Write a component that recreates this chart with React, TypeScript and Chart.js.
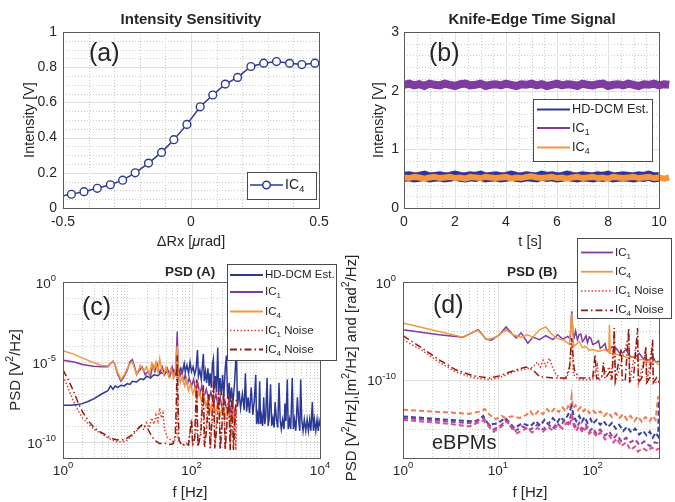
import { useEffect, useRef } from 'react';
import { Chart, registerables } from 'chart.js';

Chart.register(...registerables);

// ---------------- data ----------------
// (a) Intensity sensitivity
const sensDeltaRx = [-0.517, -0.467, -0.418, -0.366, -0.315, -0.267, -0.218, -0.166, -0.115, -0.067, -0.016, 0.036, 0.085, 0.134, 0.182, 0.234, 0.284, 0.334, 0.385, 0.433, 0.484];
const sensIntensity = [0.065, 0.078, 0.093, 0.112, 0.132, 0.158, 0.2, 0.255, 0.316, 0.388, 0.475, 0.575, 0.642, 0.704, 0.742, 0.804, 0.823, 0.832, 0.822, 0.815, 0.823];

// (b) Knife-edge time signal
const timeS = [0, 0.2, 0.4, 0.6, 0.8, 1, 1.2, 1.4, 1.6, 1.8, 2, 2.2, 2.4, 2.6, 2.8, 3, 3.2, 3.4, 3.6, 3.8, 4, 4.2, 4.4, 4.6, 4.8, 5, 5.2, 5.4, 5.6, 5.8, 6, 6.2, 6.4, 6.6, 6.8, 7, 7.2, 7.4, 7.6, 7.8, 8, 8.2, 8.4, 8.6, 8.8, 9, 9.2, 9.4, 9.6, 9.8, 10, 10.2, 10.4];
const timeHdcm = [0.53, 0.54, 0.52, 0.53, 0.55, 0.52, 0.53, 0.54, 0.52, 0.53, 0.55, 0.53, 0.52, 0.54, 0.53, 0.55, 0.52, 0.53, 0.54, 0.52, 0.53, 0.55, 0.53, 0.52, 0.54, 0.53, 0.52, 0.55, 0.53, 0.54, 0.52, 0.53, 0.55, 0.53, 0.52, 0.54, 0.53, 0.52, 0.54, 0.53, 0.55, 0.52, 0.53, 0.54, 0.53, 0.52, 0.54, 0.53, 0.55, 0.52, 0.53];
const timeIc1 = [2.1, 2.12, 2.09, 2.11, 2.08, 2.12, 2.1, 2.09, 2.12, 2.1, 2.08, 2.11, 2.12, 2.09, 2.1, 2.12, 2.08, 2.1, 2.11, 2.09, 2.12, 2.1, 2.08, 2.11, 2.1, 2.12, 2.09, 2.11, 2.08, 2.1, 2.12, 2.09, 2.11, 2.1, 2.08, 2.12, 2.1, 2.09, 2.11, 2.12, 2.08, 2.1, 2.11, 2.09, 2.12, 2.1, 2.08, 2.11, 2.1, 2.12, 2.09, 2.11, 2.1];
const timeIc4 = [0.52, 0.51, 0.53, 0.52, 0.5, 0.52, 0.53, 0.51, 0.52, 0.53, 0.51, 0.52, 0.5, 0.53, 0.52, 0.51, 0.53, 0.52, 0.51, 0.52, 0.53, 0.5, 0.52, 0.51, 0.53, 0.54, 0.52, 0.51, 0.52, 0.53, 0.51, 0.52, 0.5, 0.52, 0.53, 0.51, 0.52, 0.53, 0.51, 0.52, 0.5, 0.53, 0.52, 0.51, 0.52, 0.53, 0.51, 0.52, 0.53, 0.51, 0.52, 0.5, 0.52];

// (c) PSD (A): [f Hz, PSD V^2/Hz]
const psdA_hdcm: [number, number][] = [[1, 2e-8], [1.3, 2e-8], [1.7, 2.2e-8], [2, 2.5e-8], [2.5, 3.5e-8], [3, 5e-8], [4, 1e-7], [5, 1.6e-7], [5.5, 3.2e-7], [6, 2e-7], [6.5, 3.2e-7], [7, 2.5e-7], [8, 3.5e-7], [9, 3.2e-7], [10, 4.5e-7], [11, 4e-7], [12, 6.3e-7], [14, 5.6e-7], [16, 9e-7], [18, 8e-7], [20, 1.3e-6], [23, 1e-6], [26, 1.6e-6], [30, 1.4e-6], [34, 2.2e-6], [38, 1.8e-6], [43, 2.8e-6], [48, 2.2e-6], [53, 3.2e-6], [57, 1.6e-6], [60, 5e-6], [63, 1.3e-6], [67, 4e-6], [72, 2e-6], [77, 8e-6], [80, 2.5e-6], [85, 6.3e-6], [90, 2e-6], [95, 1e-5], [100, 2.5e-6], [106, 5e-6], [112, 1.6e-6], [118, 4e-6], [124, 5.6e-5], [128, 1.3e-6], [135, 3.2e-6], [142, 8e-7], [148, 6.3e-6], [153, 3.2e-5], [158, 6.3e-7], [165, 2.5e-6], [172, 5e-7], [180, 4e-6], [188, 3.2e-7], [195, 2e-6], [203, 2.5e-7], [212, 8e-6], [219, 1.6e-5], [226, 2e-7], [235, 1.3e-6], [245, 1.3e-7], [256, 8e-5], [265, 1.3e-7], [278, 1e-6], [290, 8e-8], [305, 1.6e-6], [318, 6.3e-8], [335, 4e-6], [350, 2.5e-5], [365, 5e-8], [385, 5e-7], [400, 3.2e-8], [420, 2.5e-7], [440, 2.5e-8], [470, 6.3e-7], [500, 8e-5], [520, 1.6e-8], [550, 1.6e-7], [580, 1.3e-8], [620, 1e-7], [660, 1e-8], [690, 2e-6], [720, 8e-9], [760, 6.3e-8], [800, 6.3e-9], [850, 2.5e-7], [900, 5e-9], [950, 4e-8], [1000, 1.6e-6], [1030, 1.3e-9], [1070, 5e-9], [1110, 1.3e-9], [1150, 6.3e-7], [1190, 1.3e-9], [1230, 4e-9], [1280, 1e-9], [1330, 6.3e-8], [1380, 1.3e-9], [1430, 4e-9], [1500, 1e-6], [1560, 1e-9], [1620, 3.2e-9], [1700, 4e-7], [1770, 1e-9], [1850, 3.2e-9], [1930, 8e-10], [2000, 3.2e-8], [2100, 2.5e-9], [2200, 8e-10], [2300, 5e-7], [2400, 2.5e-9], [2500, 6.3e-10], [2620, 2.5e-9], [2750, 6.3e-10], [2850, 2.5e-8], [2950, 2e-9], [3100, 8e-7], [3200, 6.3e-10], [3350, 2.5e-9], [3500, 6.3e-10], [3700, 1e-6], [3850, 6.3e-10], [4000, 2.5e-9], [4200, 5e-10], [4450, 6.3e-8], [4650, 2.5e-9], [4850, 5e-10], [5000, 8e-7], [5200, 2.5e-9], [5450, 5e-10], [5700, 2.5e-9], [6000, 5e-10], [6300, 2.5e-9], [6600, 5e-10], [6900, 2.5e-9], [7200, 5e-10], [7600, 3.2e-8], [7900, 5e-10], [8200, 2.5e-9], [8600, 5e-10], [9000, 2.5e-9], [9400, 5e-10], [9700, 2e-9], [10000, 1e-9]];
const psdA_ic1: [number, number][] = [[1, 1.3e-5], [1.5, 1e-5], [2, 7e-6], [3, 5.5e-6], [4, 5e-6], [5, 5e-6], [5.5, 8e-6], [6, 1.1e-5], [6.5, 6.3e-6], [7, 2e-6], [8, 6.3e-7], [9, 1.3e-6], [10, 3.2e-6], [11, 1e-5], [12, 1.4e-5], [13, 5e-6], [14, 1.6e-6], [15, 2.5e-6], [17, 5e-6], [19, 1.6e-6], [21, 2.5e-6], [23, 1.3e-6], [25, 6.3e-6], [27, 2.5e-6], [29, 8e-6], [32, 2e-6], [35, 5e-6], [38, 1.6e-6], [42, 4e-6], [46, 1.3e-6], [50, 5e-6], [54, 1.6e-6], [57, 4e-6], [60, 8e-4], [62, 3.2e-6], [66, 1.3e-6], [70, 3.2e-6], [75, 6.3e-7], [80, 1.6e-6], [86, 4e-7], [92, 1e-6], [100, 3.2e-7], [108, 8e-7], [116, 1.6e-7], [125, 5e-7], [135, 1e-7], [145, 3.2e-7], [155, 6.3e-8], [170, 2e-7], [185, 4e-8], [200, 1.3e-7], [220, 2.5e-8], [240, 1e-7], [260, 1.6e-8], [280, 6.3e-8], [300, 1e-8], [330, 4e-8], [360, 6.3e-9], [390, 2.5e-8], [420, 4e-9], [450, 1.6e-8], [480, 3.2e-9], [500, 1e-8]];
const psdA_ic4: [number, number][] = [[1, 5e-5], [1.5, 3e-5], [2, 1.8e-5], [3, 9e-6], [4, 6e-6], [5, 5.6e-6], [5.5, 8e-6], [6, 1.2e-5], [6.5, 6.3e-6], [7, 2.5e-6], [8, 8e-7], [9, 1.6e-6], [10, 4e-6], [11, 8e-6], [12, 1e-5], [13, 4e-6], [14, 1.6e-6], [16, 6.3e-6], [18, 2.5e-6], [20, 5e-6], [22, 1.6e-6], [24, 8e-6], [26, 3.2e-6], [28, 1e-5], [30, 2.5e-6], [32, 1.6e-5], [34, 4e-6], [37, 1.6e-6], [40, 5e-6], [44, 1.3e-6], [48, 4e-6], [52, 1e-6], [56, 3.2e-6], [60, 1e-4], [63, 1.3e-6], [67, 5e-7], [72, 1.3e-6], [78, 3.2e-7], [84, 8e-7], [90, 1.6e-7], [97, 4e-7], [105, 1e-7], [113, 2.5e-7], [122, 5e-8], [132, 1.6e-7], [143, 3.2e-8], [155, 1e-7], [168, 1.6e-8], [182, 6.3e-8], [197, 1e-8], [215, 4e-8], [235, 6.3e-9], [255, 3.2e-8], [280, 5e-9], [305, 2e-8], [335, 3.2e-9], [365, 1.6e-8], [400, 2.5e-9], [440, 1.3e-8], [470, 2e-9], [500, 6.3e-9]];
const psdA_ic1Noise: [number, number][] = [[1, 1.3e-6], [1.2, 2.5e-7], [1.4, 5e-8], [1.7, 1e-8], [2, 3.2e-9], [2.5, 1.3e-9], [3, 6.3e-10], [4, 3.2e-10], [5, 1.8e-10], [6, 1.3e-10], [7, 1e-10], [8.5, 1e-10], [10, 1.3e-10], [12, 2.5e-10], [14, 5e-10], [16, 1e-9], [18, 6.3e-10], [20, 1.6e-9], [22, 8e-10], [24, 3.2e-9], [26, 1.3e-9], [28, 5e-9], [30, 2e-9], [32, 1.3e-8], [34, 3.2e-9], [36, 6.3e-9], [38, 6.3e-10], [42, 2e-10], [48, 1.3e-10], [54, 1e-10], [58, 3.2e-10], [60, 6.3e-6], [62, 1.6e-10], [68, 8e-11], [78, 6.3e-11], [90, 1e-10], [100, 2.5e-9], [105, 8e-11], [115, 2.5e-10], [120, 5e-7], [125, 6.3e-11], [138, 4e-10], [150, 2.5e-7], [158, 6.3e-11], [170, 1e-9], [182, 1e-7], [195, 5e-11], [210, 1.6e-9], [220, 4e-7], [232, 5e-11], [248, 3.2e-9], [265, 1.3e-7], [280, 4e-11], [298, 1.6e-9], [316, 1e-7], [335, 4e-11], [358, 2.5e-9], [380, 6.3e-8], [400, 4e-11], [425, 4e-8], [450, 4e-11], [470, 1e-8], [490, 3.2e-11], [500, 2.5e-8]];
const psdA_ic4Noise: [number, number][] = [[1, 3.2e-6], [1.2, 8e-7], [1.43, 1.8e-7], [1.7, 3.2e-8], [2, 8e-9], [2.5, 2e-9], [2.9, 1e-9], [3.5, 5e-10], [4.2, 3.5e-10], [5, 2.2e-10], [6, 1.6e-10], [7, 1.35e-10], [8.6, 1.4e-10], [10, 1.8e-10], [11, 2.2e-10], [12.5, 4e-10], [14, 5.6e-10], [16, 1e-9], [17.8, 1.3e-9], [19, 8e-10], [21, 6.3e-10], [23, 3.2e-10], [25.6, 1.6e-10], [29, 1e-10], [32, 8e-11], [40, 8e-11], [46.5, 7e-11], [52, 8e-11], [56, 3.2e-10], [58, 3.2e-8], [60, 2.5e-5], [62, 1.6e-8], [64, 1.3e-10], [70, 6.3e-11], [80, 8e-11], [90, 6.3e-11], [100, 2.5e-9], [104, 6.3e-11], [112, 1.6e-10], [120, 8e-7], [126, 5e-11], [140, 3.2e-10], [153, 3.5e-7], [160, 5e-11], [172, 6.3e-10], [185, 1e-7], [195, 4e-11], [208, 2.5e-9], [220, 8e-7], [230, 4e-11], [250, 1.3e-9], [265, 2e-7], [280, 3.2e-11], [298, 1e-9], [316, 1.3e-7], [335, 3.2e-11], [356, 1.6e-9], [380, 8e-8], [400, 3.2e-11], [427, 6.3e-8], [450, 3.2e-11], [480, 8e-9], [500, 5e-8]];

// (d) PSD (B)
const psdB_ic1: [number, number][] = [[1, 1.3e-5], [2.4, 4e-6], [4.3, 2.3e-6], [5.7, 9e-6], [6.2, 1.3e-5], [7.5, 1.45e-6], [8.5, 1.1e-6], [10.4, 4e-6], [12.2, 2.5e-5], [13.8, 6.3e-6], [15.6, 1.9e-6], [17.6, 6.3e-6], [20.7, 5.6e-7], [23.4, 2.3e-6], [27.5, 1.26e-6], [32, 3.2e-6], [38, 1.26e-6], [42.7, 4e-6], [48.4, 1.45e-6], [54.5, 2.75e-6], [58, 1.6e-6], [60, 1e-3], [62, 5e-6], [64, 2.3e-6], [66, 1e-5], [69, 1.26e-6], [72, 4e-6], [75, 5e-6], [78, 8e-7], [81, 1.26e-6], [85, 3.2e-6], [88, 6.3e-7], [92, 2.3e-6], [96, 1.6e-6], [100, 4e-7], [108, 5.6e-7], [115, 1e-6], [120, 1.6e-7], [127, 2.6e-7], [135, 5e-7], [140, 1e-7], [150, 1.2e-7], [160, 2.5e-7], [176, 1.7e-7], [190, 6.3e-8], [207, 5.4e-8], [225, 1.26e-7], [243, 2.9e-8], [265, 2e-8], [286, 2.5e-8], [310, 5e-8], [336, 1.7e-8], [360, 1e-8], [395, 1.1e-8], [430, 2.5e-8], [460, 6.3e-9], [500, 8e-9]];
const psdB_ic4: [number, number][] = [[1, 6.3e-5], [4.3, 2.3e-6], [5.7, 9e-6], [6.2, 1.1e-5], [7.7, 1.26e-6], [9.5, 2.3e-6], [12.2, 1.3e-5], [14.5, 4e-6], [17.5, 2.3e-6], [20.5, 4e-6], [23.4, 2.3e-6], [27.5, 1.3e-5], [32, 2.5e-5], [36, 6.3e-6], [41, 1.9e-6], [50, 1.1e-6], [57, 4e-7], [60, 6.3e-4], [63, 2.5e-7], [72, 8e-7], [78, 2e-7], [85, 2.5e-7], [92, 1e-7], [100, 1.26e-7], [115, 8e-8], [135, 1.26e-7], [148, 6.3e-8], [150, 4e-5], [153, 5e-8], [175, 4e-8], [200, 3.2e-8], [240, 1.6e-8], [270, 2.5e-8], [300, 1e-8], [340, 1.26e-8], [400, 5e-9], [450, 8e-9], [500, 3.5e-9]];
const psdB_ic1Noise: [number, number][] = [[1, 1.26e-6], [1.6, 1e-7], [2.4, 6.3e-9], [3.6, 6.3e-10], [5.5, 1.6e-10], [8.2, 1e-10], [10.4, 1.6e-10], [12.2, 3.2e-10], [15.6, 8e-10], [19.8, 1.26e-9], [23.4, 2e-9], [26, 6.3e-9], [28, 2e-9], [30, 1e-8], [32, 2.5e-9], [35, 1.6e-8], [37, 3.2e-9], [40, 5e-10], [45, 1.6e-10], [52, 1e-10], [57, 1e-9], [60, 1e-6], [63, 3.2e-10], [72, 1e-10], [100, 1e-10], [112, 3.2e-9], [116, 8e-11], [150, 2e-9], [156, 8e-11], [169, 4e-6], [174, 6.3e-11], [240, 3.2e-6], [246, 6.3e-11], [297, 2.5e-6], [304, 5e-11], [364, 1e-7], [372, 5e-11], [428, 5e-7], [436, 5e-11], [500, 6.3e-11]];
const psdB_ic4Noise: [number, number][] = [[1, 3.2e-6], [1.6, 1.7e-7], [2.4, 1.1e-8], [3.6, 1.05e-9], [5.5, 2.5e-10], [8.2, 1.5e-10], [10.4, 2.5e-10], [12.2, 4.5e-10], [15.6, 1.05e-9], [19.8, 2e-9], [23.4, 1.05e-9], [27.5, 2.1e-10], [38, 1.5e-10], [52, 1.5e-10], [57, 2.2e-9], [60, 1.9e-6], [62, 3.2e-8], [64, 1.05e-9], [72, 1.5e-10], [100, 1.5e-10], [106, 4e-8], [110, 1.3e-10], [125, 2e-10], [130, 6e-9], [135, 1.2e-10], [155, 1e-9], [160, 1.1e-10], [169, 2e-5], [173, 1e-10], [200, 1.6e-7], [205, 1e-10], [220, 7e-11], [240, 2e-5], [245, 6.3e-11], [270, 2e-10], [297, 2e-5], [303, 5e-11], [330, 1.6e-10], [364, 2.5e-7], [370, 5e-11], [400, 1.6e-10], [428, 1.26e-6], [435, 5e-11], [470, 1.6e-10], [500, 5e-11]];
const psdB_ebpm1: [number, number][] = [[1, 8.5e-14], [3, 4.6e-14], [5, 3.3e-14], [6.5, 5.8e-14], [7.3, 1e-13], [8.2, 2.6e-14], [9.5, 9.3e-15], [11, 2e-14], [12, 1.26e-14], [14, 1.8e-14], [17, 1.26e-14], [20, 2.6e-14], [22, 6e-14], [24, 2e-14], [27, 7e-14], [30, 3e-14], [33, 1e-13], [36, 4e-14], [40, 1.3e-13], [44, 5e-14], [48, 1.5e-13], [52, 6e-14], [55, 2e-13], [58, 1e-13], [60, 2e-12], [62, 1.3e-13], [66, 2.5e-13], [70, 8e-14], [75, 1.6e-13], [80, 6e-14], [86, 1.2e-13], [92, 4e-14], [100, 8e-14], [110, 3e-14], [120, 6e-14], [132, 2e-14], [145, 5e-14], [160, 1.5e-14], [175, 4e-14], [190, 1.2e-14], [210, 3e-14], [230, 8e-15], [250, 2e-14], [275, 6e-15], [300, 1.8e-14], [330, 5e-15], [360, 1.6e-14], [400, 6e-15], [430, 2e-14], [460, 8e-15], [490, 2e-12], [500, 1.9e-13]];
const psdB_ebpm2: [number, number][] = [[1, 1.8e-14], [3, 8e-15], [6, 5.4e-15], [7, 2e-14], [8, 2.5e-15], [10, 3.6e-15], [12, 1.26e-14], [15, 1.1e-15], [18, 3.6e-15], [22, 1.7e-15], [25, 6e-15], [28, 2e-15], [31, 8e-15], [34, 3e-15], [38, 1.2e-14], [42, 4e-15], [46, 1.5e-14], [50, 6e-15], [55, 2.6e-14], [60, 1.9e-13], [63, 2e-14], [67, 6e-15], [72, 2e-14], [77, 5e-15], [82, 1.6e-14], [88, 4e-15], [95, 1e-14], [100, 3e-15], [110, 8e-15], [120, 2.5e-15], [130, 6e-15], [145, 1.5e-15], [160, 4e-15], [175, 1e-15], [190, 2.5e-15], [210, 6e-16], [230, 1.6e-15], [255, 4e-16], [280, 1e-15], [310, 2.5e-16], [340, 6e-16], [370, 2e-16], [400, 5e-16], [430, 1.2e-16], [460, 4e-16], [490, 1.6e-16], [500, 8.9e-13]];
const psdB_ebpm3: [number, number][] = [[1, 1.26e-14], [3, 5.4e-15], [5, 3.6e-15], [7, 1.26e-14], [9, 7.9e-16], [11, 2.5e-15], [12, 8e-15], [15, 5e-16], [18, 1.7e-15], [22, 7.9e-16], [26, 2.5e-15], [30, 8e-16], [34, 3e-15], [38, 1e-15], [42, 4e-15], [46, 1.5e-15], [50, 8e-15], [55, 3e-15], [60, 3.9e-14], [63, 4e-15], [67, 1.2e-15], [72, 4e-15], [78, 8e-16], [85, 2.5e-15], [92, 5e-16], [100, 1.2e-15], [110, 3e-16], [120, 8e-16], [135, 2e-16], [150, 5e-16], [165, 1e-16], [180, 2.5e-16], [200, 5e-17], [225, 1.2e-16], [250, 4e-17], [280, 8e-17], [310, 2.2e-17], [350, 5e-17], [400, 1.6e-17], [450, 4e-17], [500, 3.2e-17]];
const psdB_ebpm4: [number, number][] = [[1, 8e-15], [3, 3.2e-15], [5, 1.7e-15], [7, 7e-15], [9, 5e-16], [11, 1.7e-15], [12.5, 5.4e-15], [16, 3.5e-16], [20, 1.1e-15], [23, 4e-16], [26, 1.2e-15], [30, 5e-16], [34, 1.5e-15], [38, 6e-16], [43, 2.5e-15], [48, 1e-15], [53, 4e-15], [57, 2e-15], [60, 1.8e-14], [63, 2e-15], [67, 6e-16], [72, 2e-15], [78, 4e-16], [85, 1.2e-15], [92, 3e-16], [100, 6e-16], [110, 1.5e-16], [120, 4e-16], [135, 8e-17], [150, 2e-16], [165, 4e-17], [180, 1e-16], [200, 1.6e-17], [225, 4e-17], [250, 6.8e-18], [280, 1.5e-17], [300, 4.6e-18], [340, 1e-17], [380, 5e-18], [420, 1.2e-17], [460, 6e-18], [500, 1e-17]];

// ticks
const aXTicks = [-0.5, 0, 0.5];
const aXTickLabels = ['-0.5', '0', '0.5'];
const aYTicks = [0, 0.2, 0.4, 0.6, 0.8, 1];
const aYTickLabels = ['0', '0.2', '0.4', '0.6', '0.8', '1'];
const bXTicks = [0, 2, 4, 6, 8, 10];
const bXTickLabels = ['0', '2', '4', '6', '8', '10'];
const bYTicks = [0, 1, 2, 3];
const bYTickLabels = ['0', '1', '2', '3'];
const cXTicks = [1, 100, 10000];
const cXTickExp = ['0', '2', '4'];
const cYTicks = [1, 1e-5, 1e-10];
const cYTickExp = ['0', '-5', '-10'];
const dXTicks = [1, 10, 100];
const dXTickExp = ['0', '1', '2'];
const dYTicks = [1, 1e-10];
const dYTickExp = ['0', '-10'];

// grid lines
const aXMinor = [-0.4, -0.3, -0.2, -0.1, 0.1, 0.2, 0.3, 0.4];
const aYMinor = [0.05, 0.1, 0.15, 0.25, 0.3, 0.35, 0.45, 0.5, 0.55, 0.65, 0.7, 0.75, 0.85, 0.9, 0.95];
const bXMinor = [0.5, 1, 1.5, 2.5, 3, 3.5, 4.5, 5, 5.5, 6.5, 7, 7.5, 8.5, 9, 9.5];
const bYMinor = [0.2, 0.4, 0.6, 0.8, 1.2, 1.4, 1.6, 1.8, 2.2, 2.4, 2.6, 2.8];
const cXMinor = [2, 3, 4, 5, 6, 7, 8, 9, 10, 20, 30, 40, 50, 60, 70, 80, 90, 200, 300, 400, 500, 600, 700, 800, 900, 1000, 2000, 3000, 4000, 5000, 6000, 7000, 8000, 9000];
const cYMinor = [1e-1, 1e-2, 1e-3, 1e-4, 1e-6, 1e-7, 1e-8, 1e-9];
const dXMinor = [2, 3, 4, 5, 6, 7, 8, 9, 20, 30, 40, 50, 60, 70, 80, 90, 200, 300, 400];
const dYMinor = [1e-5, 1e-15];

// ---------------- styling ----------------
const PAGE_W = 675;
const PAGE_H = 502;
const FONT = '"Liberation Sans", Arial, Helvetica, sans-serif';
const TEXT = '#262626';
const BOX = '#5a5a5a';
const GRID_MAJOR = '#e0e0e0';
const GRID_MINOR = '#cccccc';

const BLUE = '#2B3896';
const PURPLE = '#7E3CA0';
const ORANGE = '#F7963D';
const RED = '#EE3A2A';
const DARKRED = '#8C1D12';
const EB_SALMON = '#F37952';
const EB_BLUE = '#3A41A8';
const EB_PURPLE = '#9A42A8';
const EB_PINK = '#DE4F8B';

const DOT = [1.5, 2];
const DASHDOT = [7, 3, 1.5, 3];
const DASH = [5, 3];

type Part = { t: string; sup?: boolean; sub?: boolean; it?: boolean };
type Label = { parts: Part[]; x: number; y: number; size: number; bold?: boolean; align?: string; rotate?: boolean };
type TickLabel = { v: number; parts: Part[] };
type LegendItem = { parts: Part[]; color: string; width: number; dash?: number[]; marker?: boolean };
type LegendSpec = { x: number; y: number; w: number; h: number; x0: number; x1: number; tx: number; rows: number[]; size: number; items: LegendItem[] };
type Deco = {
  xMajor: number[]; xMinor: number[]; yMajor: number[]; yMinor: number[];
  xTicks: TickLabel[]; yTicks: TickLabel[]; xTickY: number; yTickX: number; tickSize: number; yTickDy: number;
  xBoxMax?: number;
  labels: Label[]; legend: LegendSpec;
};

function fontOf(size: number, p: Part, bold?: boolean) {
  const s = p.sup || p.sub ? size * 0.7 : size;
  return `${p.it ? 'italic ' : ''}${bold ? 'bold ' : ''}${s}px ${FONT}`;
}

function drawRich(ctx: CanvasRenderingContext2D, parts: Part[], x: number, y: number, size: number, align: string, bold?: boolean) {
  ctx.textBaseline = 'middle';
  ctx.textAlign = 'left';
  const ws = parts.map((p) => {
    ctx.font = fontOf(size, p, bold);
    return ctx.measureText(p.t).width;
  });
  const total = ws.reduce((a, b) => a + b, 0);
  let cx = align === 'left' ? x : align === 'center' ? x - total / 2 : x - total;
  parts.forEach((p, i) => {
    ctx.font = fontOf(size, p, bold);
    const dy = p.sup ? -size * 0.42 : p.sub ? size * 0.33 : 0;
    ctx.fillText(p.t, cx, y + dy);
    cx += ws[i];
  });
}

function decoPlugin(d: Deco) {
  const boxRight = (chart: any) => (d.xBoxMax !== undefined ? chart.scales.x.getPixelForValue(d.xBoxMax) : chart.chartArea.right);
  return {
    id: 'deco',
    beforeDatasetsDraw(chart: any) {
      const { ctx, chartArea: a } = chart;
      const sx = chart.scales.x;
      const sy = chart.scales.y;
      const right = boxRight(chart);
      ctx.save();
      ctx.lineWidth = 1;
      ctx.strokeStyle = GRID_MINOR;
      ctx.setLineDash([1, 2]);
      ctx.beginPath();
      d.xMinor.forEach((v) => {
        const p = Math.round(sx.getPixelForValue(v)) + 0.5;
        ctx.moveTo(p, a.top);
        ctx.lineTo(p, a.bottom);
      });
      d.yMinor.forEach((v) => {
        const p = Math.round(sy.getPixelForValue(v)) + 0.5;
        ctx.moveTo(a.left, p);
        ctx.lineTo(right, p);
      });
      ctx.stroke();
      ctx.setLineDash([]);
      ctx.strokeStyle = GRID_MAJOR;
      ctx.beginPath();
      d.xMajor.forEach((v) => {
        const p = Math.round(sx.getPixelForValue(v)) + 0.5;
        ctx.moveTo(p, a.top);
        ctx.lineTo(p, a.bottom);
      });
      d.yMajor.forEach((v) => {
        const p = Math.round(sy.getPixelForValue(v)) + 0.5;
        ctx.moveTo(a.left, p);
        ctx.lineTo(right, p);
      });
      ctx.stroke();
      ctx.restore();
    },
    afterDatasetsDraw(chart: any) {
      const { ctx, chartArea: a } = chart;
      const sx = chart.scales.x;
      const sy = chart.scales.y;
      const right = boxRight(chart);
      ctx.save();
      ctx.strokeStyle = BOX;
      ctx.lineWidth = 1;
      ctx.setLineDash([]);
      ctx.strokeRect(Math.round(a.left) + 0.5, Math.round(a.top) + 0.5, Math.round(right - a.left), Math.round(a.bottom - a.top));
      ctx.fillStyle = TEXT;
      d.xTicks.forEach((tk) => drawRich(ctx, tk.parts, sx.getPixelForValue(tk.v), d.xTickY, d.tickSize, 'center'));
      d.yTicks.forEach((tk) => drawRich(ctx, tk.parts, d.yTickX, sy.getPixelForValue(tk.v) + d.yTickDy, d.tickSize, 'right'));
      d.labels.forEach((lb) => {
        if (lb.rotate) {
          ctx.save();
          ctx.translate(lb.x, lb.y);
          ctx.rotate(-Math.PI / 2);
          drawRich(ctx, lb.parts, 0, 0, lb.size, lb.align || 'center', lb.bold);
          ctx.restore();
        } else {
          drawRich(ctx, lb.parts, lb.x, lb.y, lb.size, lb.align || 'center', lb.bold);
        }
      });
      ctx.restore();
    },
    afterDraw(chart: any) {
      const { ctx } = chart;
      const L = d.legend;
      ctx.save();
      ctx.fillStyle = '#ffffff';
      ctx.fillRect(L.x, L.y, L.w, L.h);
      ctx.strokeStyle = '#4a4a4a';
      ctx.lineWidth = 1;
      ctx.strokeRect(L.x + 0.5, L.y + 0.5, L.w, L.h);
      L.items.forEach((it, i) => {
        const y = L.rows[i];
        ctx.strokeStyle = it.color;
        ctx.lineWidth = it.width;
        ctx.setLineDash(it.dash || []);
        ctx.beginPath();
        ctx.moveTo(L.x0, y);
        ctx.lineTo(L.x1, y);
        ctx.stroke();
        ctx.setLineDash([]);
        if (it.marker) {
          ctx.fillStyle = '#ffffff';
          ctx.beginPath();
          ctx.arc((L.x0 + L.x1) / 2, y, 3.8, 0, Math.PI * 2);
          ctx.fill();
          ctx.stroke();
        }
        ctx.fillStyle = TEXT;
        drawRich(ctx, it.parts, L.tx, y, L.size, 'left');
      });
      ctx.restore();
    },
  };
}

const plain = (s: string): Part[] => [{ t: s }];
const pow10 = (e: string): Part[] => [{ t: '10' }, { t: e, sup: true }];
const ic = (n: string, rest = ''): Part[] => (rest ? [{ t: 'IC' }, { t: n, sub: true }, { t: rest }] : [{ t: 'IC' }, { t: n, sub: true }]);
const pairs = (arr: [number, number][]) => arr.map(([x, y]) => ({ x, y }));
const zipXY = (xs: number[], ys: number[]) => ys.map((y, i) => ({ x: xs[i], y }));

function lineDs(data: any[], color: string, width: number, order: number, dash: number[] = [], extra: any = {}) {
  return { data, borderColor: color, backgroundColor: color, borderWidth: width, borderDash: dash, pointRadius: 0, fill: false, tension: 0, order, ...extra };
}

function baseOptions(l: number, t: number, r: number, b: number, xs: any, ys: any) {
  return {
    responsive: false,
    maintainAspectRatio: false,
    animation: false,
    devicePixelRatio: 1,
    events: [],
    layout: { padding: { left: l, top: t, right: PAGE_W - r, bottom: PAGE_H - b } },
    plugins: { legend: { display: false }, tooltip: { enabled: false }, title: { display: false } },
    scales: { x: { ...xs, display: false }, y: { ...ys, display: false } },
  };
}

function configA() {
  const deco: Deco = {
    xMajor: [-0.5, 0, 0.5], xMinor: aXMinor, yMajor: [0.2, 0.4, 0.6, 0.8], yMinor: aYMinor,
    xTicks: aXTicks.map((v, i) => ({ v, parts: plain(aXTickLabels[i]) })),
    yTicks: aYTicks.map((v, i) => ({ v, parts: plain(aYTickLabels[i]) })),
    xTickY: 222, yTickX: 57, tickSize: 14, yTickDy: 0,
    labels: [
      { parts: plain('Intensity Sensitivity'), x: 191, y: 20, size: 15, bold: true },
      { parts: plain('(a)'), x: 89, y: 54, size: 25, align: 'left' },
      { parts: [{ t: 'ΔRx [' }, { t: 'μ', it: true }, { t: 'rad]' }], x: 191, y: 242, size: 14.5 },
      { parts: plain('Intensity [V]'), x: 30, y: 120, size: 14.5, rotate: true },
    ],
    legend: { x: 247, y: 172, w: 69, h: 27, x0: 250, x1: 283, tx: 285, rows: [185], size: 14, items: [{ parts: ic('4'), color: BLUE, width: 1.5, marker: true }] },
  };
  return {
    type: 'line',
    data: {
      datasets: [
        lineDs(zipXY(sensDeltaRx, sensIntensity), BLUE, 1.5, 1, [], {
          pointRadius: sensDeltaRx.map((_, i) => (i === 0 ? 0 : 3.9)),
          pointBorderWidth: 1.4,
          pointBackgroundColor: '#ffffff',
          pointBorderColor: BLUE,
        }),
      ],
    },
    options: baseOptions(63, 32, 319, 208, { type: 'linear', min: -0.5, max: 0.5 }, { type: 'linear', min: 0, max: 1 }),
    plugins: [decoPlugin(deco)],
  };
}

function configB() {
  const deco: Deco = {
    xMajor: [2, 4, 6, 8], xMinor: bXMinor, yMajor: [1, 2], yMinor: bYMinor,
    xTicks: bXTicks.map((v, i) => ({ v, parts: plain(bXTickLabels[i]) })),
    yTicks: bYTicks.map((v, i) => ({ v, parts: plain(bYTickLabels[i]) })),
    xTickY: 222, yTickX: 399, tickSize: 14, yTickDy: 0,
    xBoxMax: 10,
    labels: [
      { parts: plain('Knife-Edge Time Signal'), x: 532, y: 20, size: 15, bold: true },
      { parts: plain('(b)'), x: 429, y: 54, size: 25, align: 'left' },
      { parts: plain('t [s]'), x: 530, y: 242, size: 14.5 },
      { parts: plain('Intensity [V]'), x: 379, y: 120, size: 14.5, rotate: true },
    ],
    legend: {
      x: 533, y: 99, w: 119, h: 62, x0: 537, x1: 570, tx: 572, rows: [109.5, 128, 147.5], size: 12.7,
      items: [
        { parts: plain('HD-DCM Est.'), color: BLUE, width: 2 },
        { parts: ic('1'), color: PURPLE, width: 2 },
        { parts: ic('4'), color: ORANGE, width: 2 },
      ],
    },
  };
  // axis runs 0..10 (box); the signals continue slightly past the box like the original
  return {
    type: 'line',
    data: {
      datasets: [
        lineDs(zipXY(timeS, timeHdcm), BLUE, 10, 3),
        lineDs(zipXY(timeS, timeIc1), PURPLE, 8, 2),
        lineDs(zipXY(timeS, timeIc4), ORANGE, 6, 1),
      ],
    },
    options: baseOptions(404, 32, 670.5, 208, { type: 'linear', min: 0, max: 10.45 }, { type: 'linear', min: 0, max: 3 }),
    plugins: [decoPlugin(deco)],
  };
}

function configC() {
  const deco: Deco = {
    xMajor: [100], xMinor: cXMinor, yMajor: [1e-5, 1e-10], yMinor: cYMinor,
    xTicks: cXTicks.map((v, i) => ({ v, parts: pow10(cXTickExp[i]) })),
    yTicks: cYTicks.map((v, i) => ({ v, parts: pow10(cYTickExp[i]) })),
    xTickY: 471, yTickX: 56, tickSize: 13.5, yTickDy: 2,
    labels: [
      { parts: plain('PSD (A)'), x: 190, y: 272, size: 13.5, bold: true },
      { parts: plain('(c)'), x: 82, y: 308, size: 25, align: 'left' },
      { parts: plain('f [Hz]'), x: 190, y: 493, size: 15 },
      { parts: [{ t: 'PSD [V' }, { t: '2', sup: true }, { t: '/Hz]' }], x: 16, y: 370, size: 15, rotate: true },
    ],
    legend: {
      x: 227, y: 264, w: 109, h: 96, x0: 230, x1: 263, tx: 265, rows: [275, 292, 311.5, 330.5, 349.5], size: 11.5,
      items: [
        { parts: plain('HD-DCM Est.'), color: BLUE, width: 1.8 },
        { parts: ic('1'), color: PURPLE, width: 1.8 },
        { parts: ic('4'), color: ORANGE, width: 1.8 },
        { parts: ic('1', ' Noise'), color: RED, width: 1.6, dash: DOT },
        { parts: ic('4', ' Noise'), color: DARKRED, width: 1.8, dash: DASHDOT },
      ],
    },
  };
  return {
    type: 'line',
    data: {
      datasets: [
        lineDs(pairs(psdA_hdcm), BLUE, 1.5, 5),
        lineDs(pairs(psdA_ic1), PURPLE, 1.5, 4),
        lineDs(pairs(psdA_ic4), ORANGE, 1.5, 3),
        lineDs(pairs(psdA_ic1Noise), RED, 1.5, 2, DOT),
        lineDs(pairs(psdA_ic4Noise), DARKRED, 1.5, 1, DASHDOT),
      ],
    },
    options: baseOptions(63, 282, 320, 458, { type: 'logarithmic', min: 1, max: 10000 }, { type: 'logarithmic', min: 1e-11, max: 1 }),
    plugins: [decoPlugin(deco)],
  };
}

function configD() {
  const deco: Deco = {
    xMajor: [10, 100], xMinor: dXMinor, yMajor: [1e-10], yMinor: dYMinor,
    xTicks: dXTicks.map((v, i) => ({ v, parts: pow10(dXTickExp[i]) })),
    yTicks: dYTicks.map((v, i) => ({ v, parts: pow10(dYTickExp[i]) })),
    xTickY: 471, yTickX: 396, tickSize: 13.5, yTickDy: 2,
    labels: [
      { parts: plain('PSD (B)'), x: 532, y: 272, size: 13.5, bold: true },
      { parts: plain('(d)'), x: 433, y: 306, size: 25, align: 'left' },
      { parts: plain('f [Hz]'), x: 530, y: 493, size: 15 },
      { parts: plain('eBPMs'), x: 432, y: 443, size: 20, align: 'left' },
      {
        parts: [{ t: 'PSD [V' }, { t: '2', sup: true }, { t: '/Hz],[m' }, { t: '2', sup: true }, { t: '/Hz] and [rad' }, { t: '2', sup: true }, { t: '/Hz]' }],
        x: 352, y: 368, size: 15, rotate: true,
      },
    ],
    legend: {
      x: 577, y: 238, w: 94, h: 80, x0: 581, x1: 613, tx: 615, rows: [252.5, 271.7, 291, 310.3], size: 11.5,
      items: [
        { parts: ic('1'), color: PURPLE, width: 1.8 },
        { parts: ic('4'), color: ORANGE, width: 1.8 },
        { parts: ic('1', ' Noise'), color: RED, width: 1.6, dash: DOT },
        { parts: ic('4', ' Noise'), color: DARKRED, width: 1.8, dash: DASHDOT },
      ],
    },
  };
  return {
    type: 'line',
    data: {
      datasets: [
        lineDs(pairs(psdB_ic1), PURPLE, 1.5, 8),
        lineDs(pairs(psdB_ic4), ORANGE, 1.5, 7),
        lineDs(pairs(psdB_ic1Noise), RED, 1.5, 6, DOT),
        lineDs(pairs(psdB_ic4Noise), DARKRED, 1.5, 5, DASHDOT),
        lineDs(pairs(psdB_ebpm1), EB_SALMON, 2, 4, DASH),
        lineDs(pairs(psdB_ebpm2), EB_BLUE, 2, 3, DASH),
        lineDs(pairs(psdB_ebpm3), EB_PURPLE, 2, 2, DASH),
        lineDs(pairs(psdB_ebpm4), EB_PINK, 2, 1, DASH),
      ],
    },
    options: baseOptions(403, 282, 659, 458, { type: 'logarithmic', min: 1, max: 500 }, { type: 'logarithmic', min: 1e-18, max: 1 }),
    plugins: [decoPlugin(deco)],
  };
}

function Panel({ make }: { make: () => any }) {
  const ref = useRef<HTMLCanvasElement>(null);
  useEffect(() => {
    if (!ref.current) return;
    const chart = new Chart(ref.current, make());
    return () => chart.destroy();
  }, [make]);
  return <canvas ref={ref} width={PAGE_W} height={PAGE_H} style={{ position: 'absolute', left: 0, top: 0, width: PAGE_W, height: PAGE_H }} />;
}

export default function App() {
  return (
    <div style={{ position: 'fixed', left: 0, top: 0, width: PAGE_W, height: PAGE_H, background: '#ffffff', overflow: 'hidden' }}>
      <Panel make={configA} />
      <Panel make={configB} />
      <Panel make={configC} />
      <Panel make={configD} />
    </div>
  );
}
